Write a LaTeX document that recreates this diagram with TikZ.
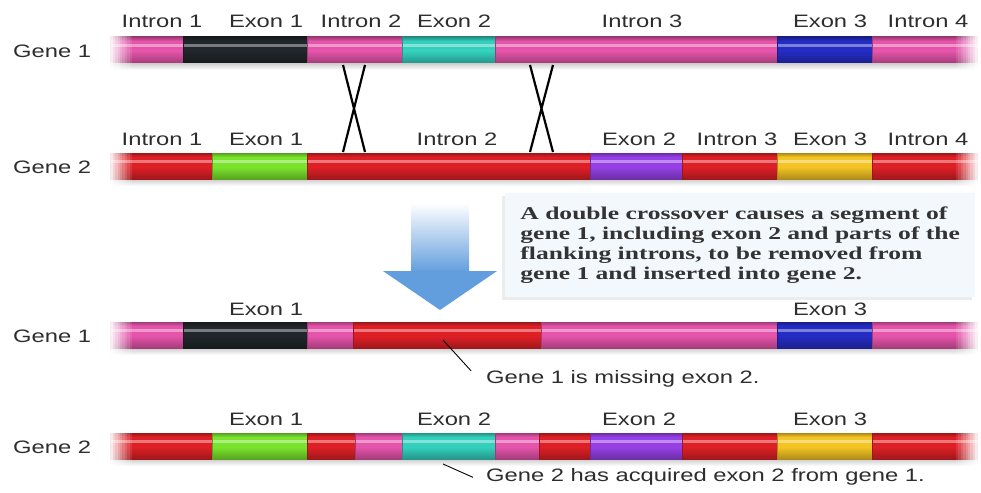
\documentclass[tikz,border=0pt]{standalone}
\usepackage{fontspec}
\setmainfont{Liberation Sans}[FakeStretch=1.32]
\newfontfamily\notefont{Liberation Serif}[FakeStretch=1.42]
\usetikzlibrary{shadows}

\definecolor{intronpink}{RGB}{228,84,170}
\definecolor{intronred}{RGB}{222,32,38}
\definecolor{exonblack}{RGB}{32,38,42}
\definecolor{exoncyan}{RGB}{52,208,190}
\definecolor{exonblue}{RGB}{36,44,196}
\definecolor{exongreen}{RGB}{122,228,44}
\definecolor{exonpurple}{RGB}{150,64,230}
\definecolor{exonyellow}{RGB}{244,196,36}
\definecolor{arrowblue}{RGB}{98,158,222}
\definecolor{boxfill}{RGB}{243,248,253}
\definecolor{labelgrey}{RGB}{45,45,45}

\begin{document}
\begin{tikzpicture}[x=1pt,y=-1pt,
                    every node/.style={text=labelgrey,font=\fontsize{18}{20}\selectfont},
                    seg label/.style={anchor=base,inner sep=0pt},
                    gene label/.style={anchor=base west,inner sep=0pt},
                    note label/.style={anchor=base west,inner sep=1pt},
                    cross/.style={black,line width=2.2pt},
                    leader/.style={black,line width=0.9pt},
                    notebox/.style={fill=boxfill,anchor=north west,minimum width=470pt,
                                    minimum height=104pt,align=left,text=black!80,
                                    font=\notefont\bfseries\fontsize{18}{20}\selectfont,
                                    drop shadow={opacity=0.15,shadow xshift=-3pt,shadow yshift=-3pt}}]
  \useasboundingbox (0,0) rectangle (981,492);

  % the four genes
  \foreach \yy/\segs in {
      50/{110/183/intronpink,183/307/exonblack,307/402/intronpink,402/495/exoncyan,
          495/777/intronpink,777/872/exonblue,872/978/intronpink},
      166/{110/212/intronred,212/307/exongreen,307/590/intronred,590/682/exonpurple,
          682/777/intronred,777/872/exonyellow,872/978/intronred},
      335/{110/183/intronpink,183/307/exonblack,307/353/intronpink,353/541/intronred,
          541/777/intronpink,777/872/exonblue,872/978/intronpink},
      446/{110/212/intronred,212/307/exongreen,307/355/intronred,355/402/intronpink,
          402/495/exoncyan,495/539/intronpink,539/590/intronred,590/682/exonpurple,
          682/777/intronred,777/872/exonyellow,872/978/intronred}} {
    \shade[top color=black!20,bottom color=white] (110,\yy+13) rectangle (978,\yy+20);
    \foreach \a/\b/\c in \segs {
      \fill[\c] (\a,\yy-13) rectangle (\b,\yy+13);
      \shade[top color=\c!70!black,bottom color=\c] (\a,\yy-13) rectangle (\b,\yy-9);
      \shade[top color=\c,bottom color=\c!72!black] (\a,\yy+1) rectangle (\b,\yy+13);
      \fill[white,opacity=0.4] (\a,\yy-6) rectangle (\b,\yy-3);
      \draw[\c!70!black,line width=0.6pt] (\a,\yy-13) -- (\a,\yy+13);
    }
    % soft ends
    \foreach \i [evaluate=\i as \op using 1-\i/10] in {0,...,9} {
      \fill[white,opacity=\op] (108+2.4*\i,\yy-16) rectangle (110.4+2.4*\i,\yy+21);
      \fill[white,opacity=\op] (980-2.4*\i,\yy-16) rectangle (977.6-2.4*\i,\yy+21);
    }
  }

  % gene names
  \node[gene label] (g1) at (13,58) {Gene 1};
  \node[gene label] (g2) at (13,173) {Gene 2};
  \node[gene label] (g3) at (13,342) {Gene 1};
  \node[gene label] (g4) at (13,453) {Gene 2};

  % segment names
  \node[seg label] (a1) at (162,28) {Intron 1};
  \node[seg label] (a2) at (266,28) {Exon 1};
  \node[seg label] (a3) at (361,28) {Intron 2};
  \node[seg label] (a4) at (454,28) {Exon 2};
  \node[seg label] (a5) at (642,28) {Intron 3};
  \node[seg label] (a6) at (830,28) {Exon 3};
  \node[seg label] (a7) at (928,28) {Intron 4};

  \node[seg label] (b1) at (162,145) {Intron 1};
  \node[seg label] (b2) at (266,145) {Exon 1};
  \node[seg label] (b3) at (457,145) {Intron 2};
  \node[seg label] (b4) at (639,145) {Exon 2};
  \node[seg label] (b5) at (737,145) {Intron 3};
  \node[seg label] (b6) at (830,145) {Exon 3};
  \node[seg label] (b7) at (928,145) {Intron 4};

  \node[seg label] (c1) at (266,315) {Exon 1};
  \node[seg label] (c2) at (830,315) {Exon 3};

  \node[seg label] (d1) at (266,425) {Exon 1};
  \node[seg label] (d2) at (454,425) {Exon 2};
  \node[seg label] (d3) at (639,425) {Exon 2};
  \node[seg label] (d4) at (830,425) {Exon 3};

  % crossovers
  \coordinate (xa1) at (343,65);  \coordinate (xa2) at (365,152);
  \coordinate (xa3) at (365,65);  \coordinate (xa4) at (343,152);
  \coordinate (xb1) at (530,65);  \coordinate (xb2) at (553,152);
  \coordinate (xb3) at (553,65);  \coordinate (xb4) at (530,152);
  \draw[cross] (xa1) -- (xa2) (xa3) -- (xa4);
  \draw[cross] (xb1) -- (xb2) (xb3) -- (xb4);

  % arrow
  \shade[top color=white,bottom color=arrowblue] (411,203) rectangle (469,272);
  \fill[arrowblue] (383,271) -- (497,271) -- (440,310) -- cycle;

  \node[notebox] (note) at (505,193) {A double crossover causes a segment of\\
    gene 1, including exon 2 and parts of the\\
    flanking introns, to be removed from\\
    gene 1 and inserted into gene 2.};

  % results
  \coordinate (miss) at (443,340);
  \node[note label] (misstext) at (485,383) {Gene 1 is missing exon 2.};
  \draw[leader] (miss) -- ([xshift=-14pt,yshift=-2pt]misstext.north west);

  \coordinate (gain) at (443,464);
  \node[note label] (gaintext) at (485,481) {Gene 2 has acquired exon 2 from gene 1.};
  \draw[leader] (gain) -- ([xshift=-12pt,yshift=-1pt]gaintext.west);
\end{tikzpicture}
\end{document}
